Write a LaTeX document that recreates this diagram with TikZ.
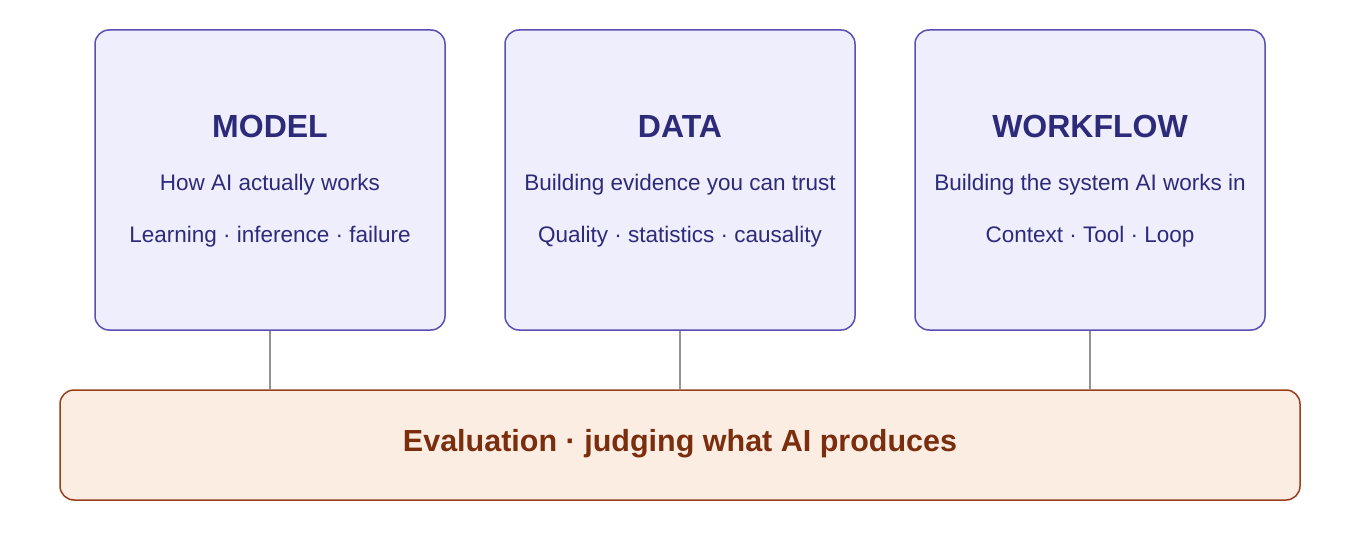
\documentclass[tikz,border=0pt]{standalone}
\usepackage{fontspec}
\setmainfont{Liberation Sans}
\begin{document}
\definecolor{bfill}{HTML}{EEEEFC}
\definecolor{bdraw}{HTML}{5A4FB5}
\definecolor{btext}{HTML}{2E2A7A}
\definecolor{efill}{HTML}{FCEDE3}
\definecolor{edraw}{HTML}{9A3F1E}
\definecolor{etext}{HTML}{7A2E0E}
\begin{tikzpicture}[x=1pt,y=-1pt,
  card/.style={draw=bdraw,fill=bfill,line width=1.5pt,rounded corners=14pt,minimum width=350pt,minimum height=300pt},
  ttl/.style={text=btext,font=\bfseries\fontsize{32}{35}\selectfont},
  sub/.style={text=btext,font=\fontsize{22.5}{25}\selectfont},
  link/.style={draw=gray!85,line width=2.5pt}]
\useasboundingbox (0,0) rectangle (1360,540);
\node[card] (m) at (270,180) {};
\node[card] (d) at (680,180) {};
\node[card] (w) at (1090,180) {};
\node[draw=edraw,fill=efill,line width=1.5pt,rounded corners=14pt,minimum width=1240pt,minimum height=110pt] (e) at (680,445) {};
\node[text=etext,font=\bfseries\fontsize{30.5}{33}\selectfont] (et) at (680,444) {Evaluation · judging what AI produces};
\node[ttl] (mt) at (270,126) {MODEL};
\node[sub] (m1) at (270,185) {How AI actually works};
\node[sub] (m2) at (270,237) {Learning · inference · failure};
\node[ttl] (dt) at (680,126) {DATA};
\node[sub] (d1) at (680,185) {Building evidence you can trust};
\node[sub] (d2) at (680,237) {Quality · statistics · causality};
\node[ttl] (wt) at (1090,126) {WORKFLOW};
\node[sub] (w1) at (1090,185) {Building the system AI works in};
\node[sub] (w2) at (1090,237) {Context · Tool · Loop};
\draw[link] (m.south) -- (m.south |- e.north);
\draw[link] (d.south) -- (d.south |- e.north);
\draw[link] (w.south) -- (w.south |- e.north);
\end{tikzpicture}
\end{document}
